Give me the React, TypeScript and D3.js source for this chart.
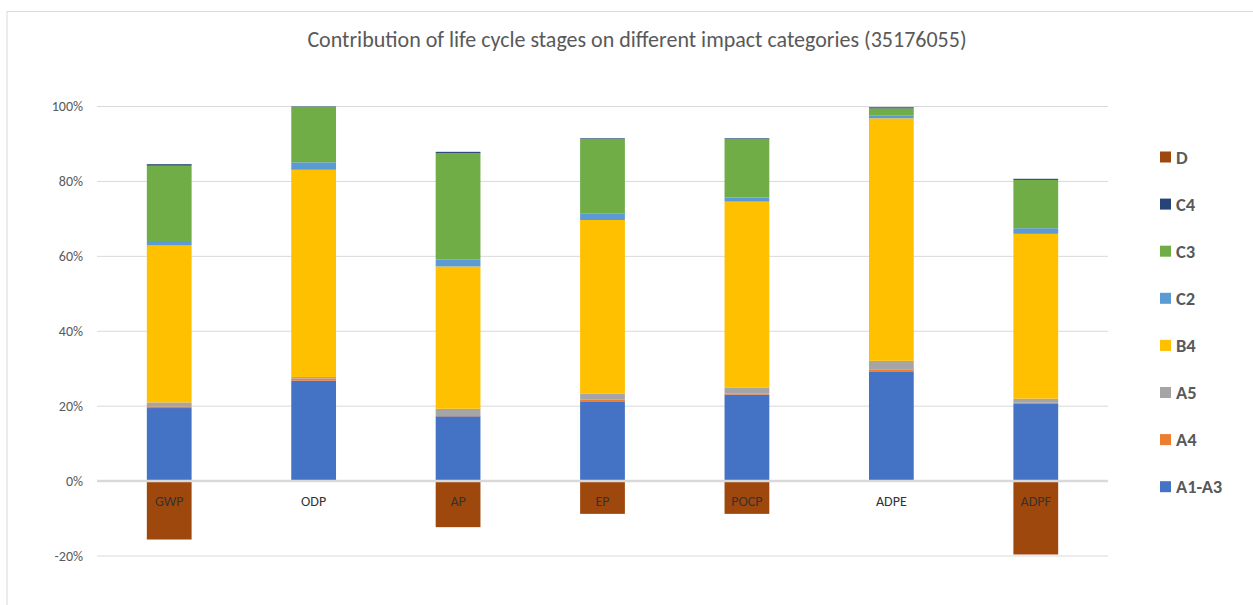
import React from 'react'
import * as d3 from 'd3'

// impact categories
const categories = ['GWP', 'ODP', 'AP', 'EP', 'POCP', 'ADPE', 'ADPF']

// stages in stacking order (bottom to top), values in %
const stages = ['A1-A3', 'A4', 'A5', 'B4', 'C2', 'C3', 'C4', 'D']
const a1a3 = [19.5, 26.8, 17.3, 21.3, 23.1, 29.3, 20.6]
const a4 = [0.45, 0.6, 0.3, 0.4, 0.3, 0.4, 0.3]
const a5 = [1.05, 0.4, 1.7, 1.6, 1.6, 2.4, 1.1]
const b4 = [41.9, 55.3, 38.0, 46.4, 49.6, 64.75, 44.0]
const c2 = [1.2, 2.0, 1.9, 1.8, 1.1, 0.8, 1.5]
const c3 = [20.1, 14.85, 28.4, 19.75, 15.55, 1.85, 12.9]
const c4 = [0.4, 0.1, 0.3, 0.25, 0.25, 0.3, 0.3]
const dStage = [-15.6, 0, -12.3, -8.75, -8.75, 0, -19.6]

const yTicks = [-20, 0, 20, 40, 60, 80, 100]

const colors: Record<string, string> = {
  'A1-A3': '#4472C4',
  A4: '#ED7D31',
  A5: '#A5A5A5',
  B4: '#FFC000',
  C2: '#5B9BD5',
  C3: '#70AD47',
  C4: '#264478',
  D: '#9E480E',
}

const seriesValues = [a1a3, a4, a5, b4, c2, c3, c4, dStage]
const rows = categories.map((cat, i) => {
  const r: any = { cat }
  stages.forEach((s, j) => (r[s] = seriesValues[j][i]))
  return r
})

const W = 1253
const H = 605
const FONT = "Calibri, Carlito, 'Open Sans', sans-serif"

export default function App() {
  const x = d3.scaleBand().domain(categories).range([97, 1108]).paddingInner(0.69).paddingOuter(0.345)
  const y = d3.scaleLinear().domain([-20, 100]).range([556, 106.5])

  const stacked = d3.stack<any>().keys(stages).offset(d3.stackOffsetDiverging)(rows)

  const legendOrder = [...stages].reverse()

  return (
    <svg width={W} height={H} style={{ position: 'absolute', left: 0, top: 0, background: '#fff' }} fontFamily={FONT}>
      <rect x={7} y={11.5} width={W} height={H} fill="#fff" stroke="#d9d9d9" strokeWidth={1} />
      <text x={637} y={47} textAnchor="middle" fontSize={22} fill="#595959">
        Contribution of life cycle stages on different impact categories (35176055)
      </text>

      {yTicks.map(t => (
        <g key={t}>
          {t !== 0 && <line x1={97} x2={1108} y1={y(t)} y2={y(t)} stroke="#d9d9d9" strokeWidth={1} />}
          <text x={83} y={y(t)} dy="0.35em" textAnchor="end" fontSize={14} fill="#595959">
            {t}%
          </text>
        </g>
      ))}

      {stacked.map(layer => (
        <g key={layer.key} fill={colors[layer.key]}>
          {layer.map((d, i) => {
            const y0 = y(Math.max(d[0], d[1]))
            const y1 = y(Math.min(d[0], d[1]))
            if (y1 - y0 <= 0) return null
            return <rect key={i} x={x(categories[i])} width={x.bandwidth()} y={y0} height={y1 - y0} />
          })}
        </g>
      ))}

      <line x1={97} x2={1108} y1={y(0)} y2={y(0)} stroke="#d9d9d9" strokeWidth={2.5} />

      {categories.map(c => (
        <text key={c} x={(x(c) || 0) + x.bandwidth() / 2} y={501} dy="0.35em" textAnchor="middle" fontSize={14} fill="#333">
          {c}
        </text>
      ))}

      {legendOrder.map((s, i) => {
        const ly = 157 + i * 47.1
        return (
          <g key={s}>
            <rect x={1160} y={ly - 5.5} width={11} height={11} fill={colors[s]} />
            <text x={1176} y={ly} dy="0.36em" fontSize={18.5} fontWeight="bold" fill="#595959">
              {s}
            </text>
          </g>
        )
      })}
    </svg>
  )
}
